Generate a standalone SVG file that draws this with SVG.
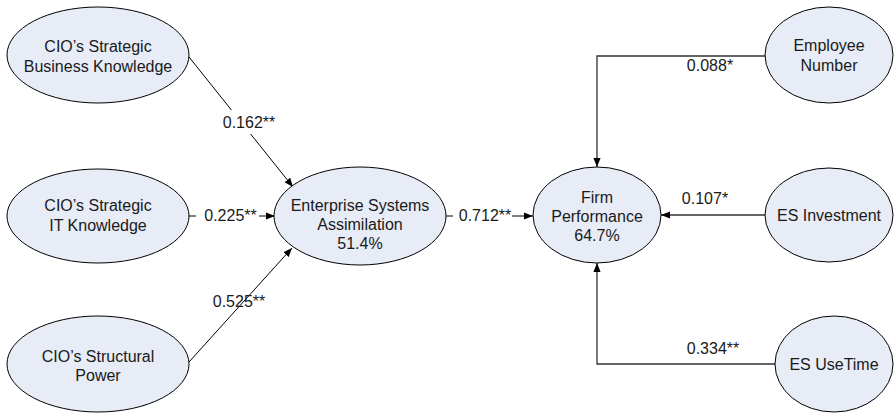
<svg xmlns="http://www.w3.org/2000/svg" width="895" height="413" viewBox="0 0 895 413">
<defs>
<style>
.node ellipse{fill:#E7ECF6;stroke:#000;stroke-width:1}
text{font-family:"Liberation Sans",Arial,Helvetica,sans-serif;font-size:16px;fill:#1a1a1a;text-anchor:middle}
.edge{fill:none;stroke:#000;stroke-width:1}
.edge.r{stroke:#333;stroke-width:1.3}
.bg{fill:#fff}
</style>
<marker id="arr" markerUnits="userSpaceOnUse" markerWidth="10" markerHeight="8" refX="9" refY="4" orient="auto">
<path d="M0,0.4 L9,4 L0,7.6 z" fill="#000"/>
</marker>
</defs>
<rect width="895" height="413" fill="#fff"/>
<g id="connectors">
<line class="edge" x1="189" y1="57" x2="293" y2="187" marker-end="url(#arr)"/>
<line class="edge" x1="189" y1="216" x2="275" y2="216" marker-end="url(#arr)"/>
<line class="edge" x1="189" y1="362" x2="292" y2="248" marker-end="url(#arr)"/>
<line class="edge" x1="446" y1="216" x2="533" y2="216" marker-end="url(#arr)"/>
<polyline class="edge r" points="765,56 597,56 597,167" marker-end="url(#arr)"/>
<line class="edge r" x1="765" y1="215" x2="661" y2="215" marker-end="url(#arr)"/>
<polyline class="edge r" points="775,364 597,364 597,263" marker-end="url(#arr)"/>
<rect class="bg" x="221" y="110" width="56" height="24"/>
<text x="249" y="128">0.162**</text>
<rect class="bg" x="196" y="205" width="63" height="22"/>
<text x="230.5" y="221">0.225**</text>
<text x="239" y="307">0.525**</text>
<rect class="bg" x="453" y="205" width="59" height="22"/>
<text x="485" y="221">0.712**</text>
<text x="710" y="71">0.088*</text>
<text x="705" y="204">0.107*</text>
<text x="713" y="354">0.334**</text>
</g>
<g id="n-business" class="node">
<ellipse cx="98" cy="55" rx="91" ry="48"/>
<text x="98" y="52">CIO’s Strategic</text>
<text x="98" y="72">Business Knowledge</text>
</g>
<g id="n-it" class="node">
<ellipse cx="98" cy="216" rx="91" ry="47"/>
<text x="98" y="211">CIO’s Strategic</text>
<text x="98" y="231">IT Knowledge</text>
</g>
<g id="n-power" class="node">
<ellipse cx="98" cy="364" rx="91" ry="48"/>
<text x="98" y="362">CIO’s Structural</text>
<text x="98" y="381">Power</text>
</g>
<g id="n-esa" class="node">
<ellipse cx="360" cy="216" rx="86" ry="49"/>
<text x="360" y="211">Enterprise Systems</text>
<text x="360" y="230">Assimilation</text>
<text x="360" y="249">51.4%</text>
</g>
<g id="n-firm" class="node">
<ellipse cx="597" cy="215" rx="64" ry="48"/>
<text x="597" y="203">Firm</text>
<text x="597" y="222">Performance</text>
<text x="597" y="241">64.7%</text>
</g>
<g id="n-employee" class="node">
<ellipse cx="829" cy="55" rx="64" ry="48"/>
<text x="829" y="51">Employee</text>
<text x="829" y="71">Number</text>
</g>
<g id="n-invest" class="node">
<ellipse cx="829" cy="215" rx="64" ry="47"/>
<text x="829" y="221">ES Investment</text>
</g>
<g id="n-usetime" class="node">
<ellipse cx="834" cy="364" rx="59" ry="48"/>
<text x="834" y="370">ES UseTime</text>
</g>
</svg>
